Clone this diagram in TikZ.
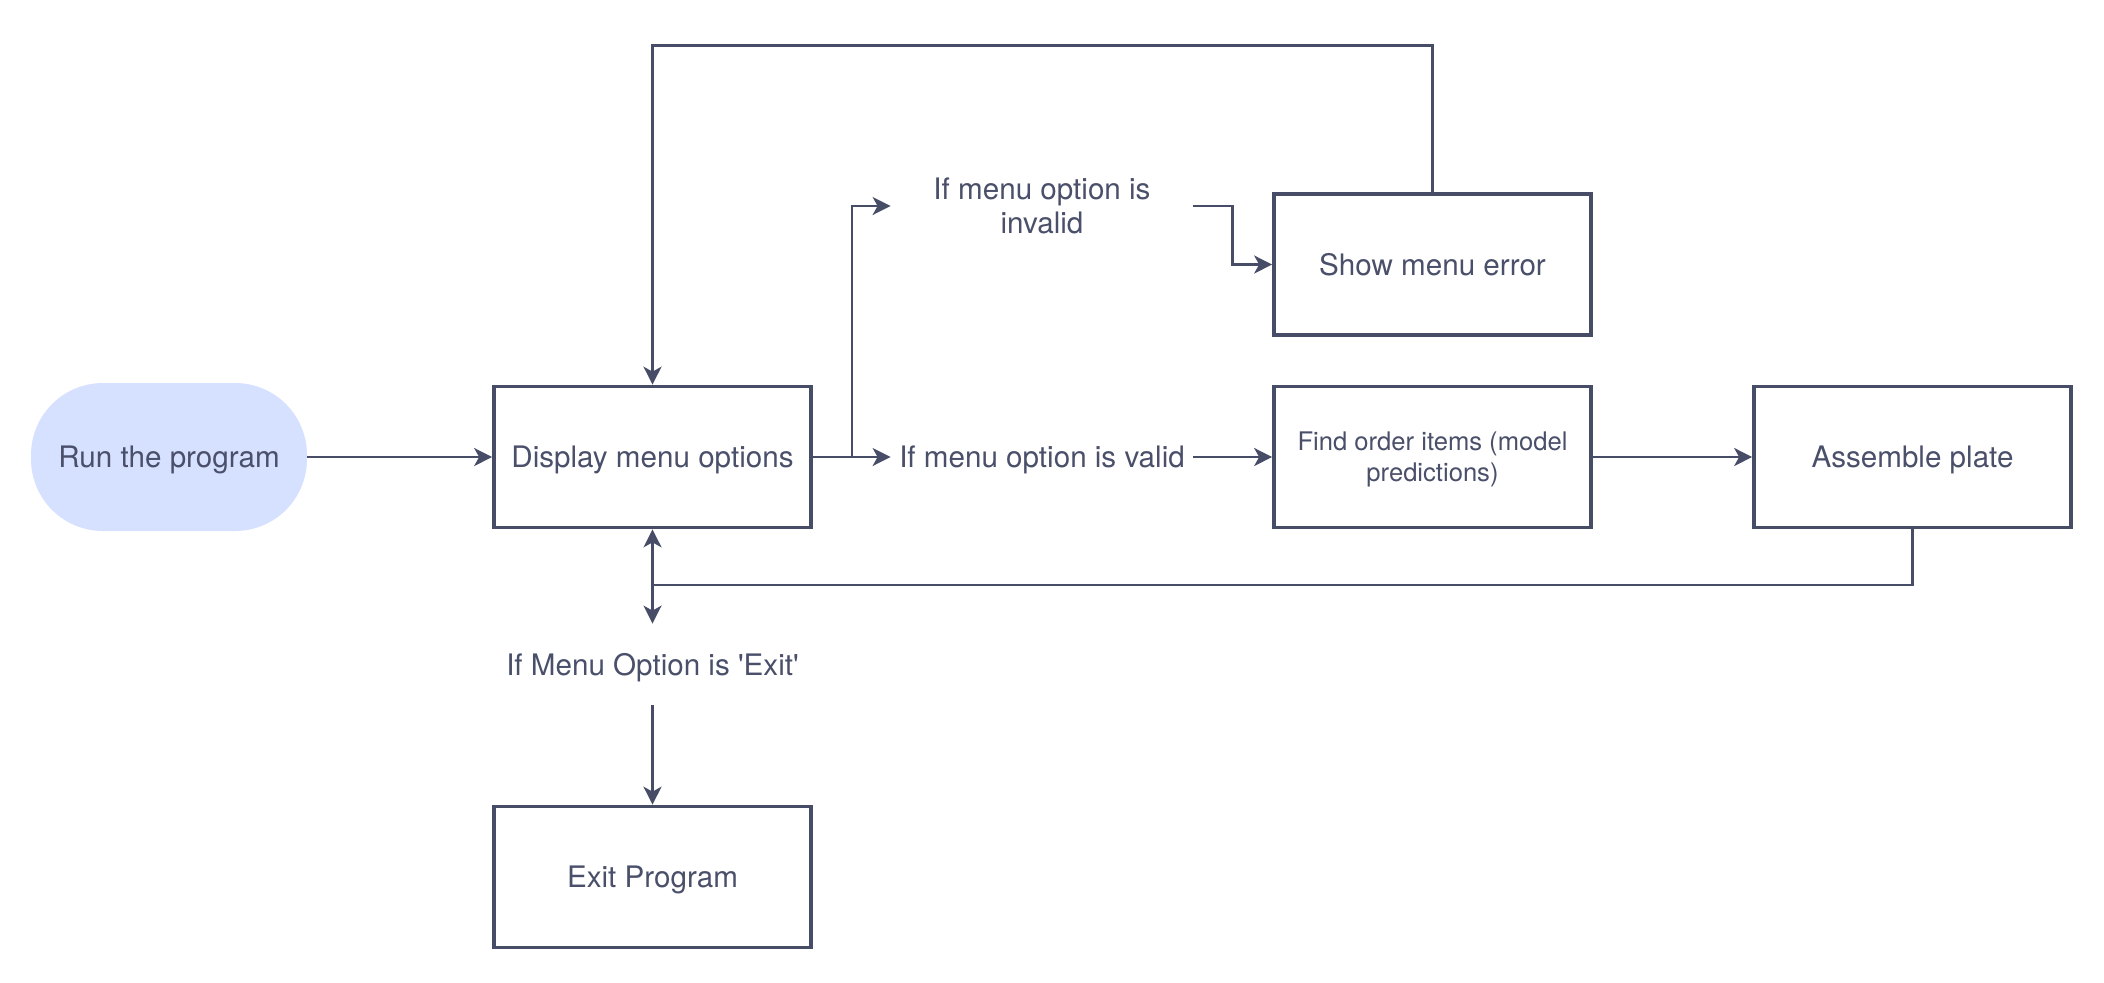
\documentclass[tikz,border=0pt]{standalone}
\usepackage{fontspec}
\setmainfont{TeX Gyre Heros}
\usetikzlibrary{arrows.meta}
\definecolor{ink}{HTML}{474D66}
\definecolor{txt}{HTML}{4A4F6A}
\definecolor{startfill}{HTML}{D6E0FF}
\begin{document}
\begin{tikzpicture}[x=0.5pt,y=-0.5pt,
        box/.style={draw=ink,line width=1.85pt,minimum width=158.5pt,minimum height=70.5pt,
            inner sep=0pt,text=txt,align=center,text depth=0pt,font=\fontsize{14.8}{17}\selectfont},
        start/.style={fill=startfill,rounded corners=36pt,minimum width=138pt,minimum height=74pt,
            inner sep=0pt,text=txt,text depth=0pt,font=\fontsize{14.8}{17}\selectfont},
        cond/.style={text=txt,align=center,minimum width=151pt,inner sep=0pt,
            font=\fontsize{14.8}{17}\selectfont},
        arr/.style={draw=ink,line width=1.1pt,-{Stealth[length=9pt,width=9pt,inset=2.5pt]}}]
	\fill[white] (0,0) rectangle (2104,982);
	\useasboundingbox (0,0) rectangle (2104,982);

	\node[start] (run) at (169,457) {Run the program};
	\node[box] (disp) at (652.5,457) {Display menu options};
	\node[cond] (invalid) at (1042,206) {If menu option is\\invalid};
	\node[cond,text depth=0pt] (valid) at (1042,457) {If menu option is valid};
	\node[box] (err) at (1432.5,264.5) {Show menu error};
	\node[box,font=\fontsize{12.8}{15.5}\selectfont] (find) at (1432.5,457) {Find order items (model\\predictions)};
	\node[box] (plate) at (1912.5,457) {Assemble plate};
	\node[cond,minimum height=40.5pt,text depth=0pt] (exittxt) at (652.5,664.5) {If Menu Option is \textquotesingle Exit\textquotesingle};
	\node[box] (exitbox) at (652.5,877) {Exit Program};

	\coordinate (split) at (852,457);
	\coordinate (loop) at (652.5,45.5);
	\coordinate (back) at (652.5,585);

	\draw[arr] (run) -- (disp);
	\draw[arr] (disp.east) -- (valid.west);
	\draw[arr] (split) |- (invalid.west);
	\draw[arr] (invalid.east) -- ++(39,0) |- (err.west);
	\draw[arr] (err.north) |- (loop) -- (disp.north);
	\draw[arr] (valid.east) -- (find.west);
	\draw[arr] (find.east) -- (plate.west);
	\draw[arr] (plate.south) |- (back) -- (disp.south);
	\draw[arr] (back) -- (exittxt.north);
	\draw[arr] (exittxt.south) -- (exitbox.north);
\end{tikzpicture}
\end{document}
